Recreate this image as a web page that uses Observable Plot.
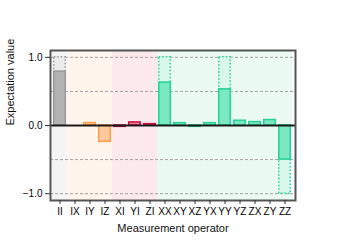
<!DOCTYPE html>
<html>
<head>
<meta charset="utf-8">
<script src="https://cdn.jsdelivr.net/npm/d3@7"></script>
<script src="https://cdn.jsdelivr.net/npm/@observablehq/plot@0.6"></script>
<style>
  html, body { margin: 0; padding: 0; background: #fff; }
  svg { font-family: "Liberation Sans", Arial, sans-serif; }
</style>
</head>
<body>
<div id="chart"></div>
<script>
const labels = ["II","IX","IY","IZ","XI","YI","ZI","XX","XY","XZ","YX","YY","YZ","ZX","ZY","ZZ"];
const groups = ["id","q0","q0","q0","q1","q1","q1","qq","qq","qq","qq","qq","qq","qq","qq","qq"];
const measured = [0.79, 0.0, 0.035, -0.24, -0.02, 0.045, 0.02, 0.63, 0.035, -0.02, 0.035, 0.53, 0.07, 0.05, 0.08, -0.50];
const ideal = [1, 0, 0, 0, 0, 0, 0, 1, 0, 0, 0, 1, 0, 0, 0, -1];
const yTicks = [-1, 0, 1];
const gridLines = [-1, -0.5, 0.5, 1];

const bandFill = {id: "#f4f4f4", q0: "#fff5ed", q1: "#fbe9ee", qq: "#eafaf3"};
const barFill = {id: "#b3b3b3", q0: "#ffc89d", q1: "#ee7f98", qq: "#7be8c2"};
const barStroke = {id: "#999999", q0: "#ff9c45", q1: "#c8123f", qq: "#22d497"};
const idealFill = {id: "#ebebeb", q0: "#ffe9d9", q1: "#f7d3dc", qq: "#d9f7ea"};

const rows = labels.map((l, i) => ({label: l, group: groups[i], value: measured[i], ideal: ideal[i]}));
const idealRows = rows.filter(r => r.ideal !== 0);

const chart = Plot.plot({
  width: 345,
  height: 250,
  marginLeft: 50,
  marginRight: 50,
  marginTop: 50,
  marginBottom: 50,
  style: {fontSize: "10px", fontFamily: "Liberation Sans, Arial, sans-serif", background: "white"},
  x: {domain: labels, paddingInner: 0.13, paddingOuter: 0.065, label: null},
  y: {domain: [-1.1, 1.1], label: null},
  marks: [
    Plot.barY(rows, {x: "label", y1: () => -1.1, y2: () => 1.1, fill: d => bandFill[d.group], insetLeft: -1, insetRight: -1}),
    Plot.ruleY(gridLines, {stroke: "#a0a0a0", strokeDasharray: "3,2", strokeWidth: 1}),
    Plot.barY(idealRows, {x: "label", y: "ideal", fill: d => idealFill[d.group], stroke: d => barStroke[d.group], strokeWidth: 1.5, strokeDasharray: "1.5,2", insetLeft: 0.75, insetRight: 0.75}),
    Plot.barY(rows.filter(r => r.value !== 0), {x: "label", y: "value", fill: d => barFill[d.group], stroke: d => barStroke[d.group], strokeWidth: 1.5, insetLeft: 0.75, insetRight: 0.75}),
    Plot.ruleY([0], {stroke: "#1a1a1a", strokeWidth: 2}),
    Plot.frame({stroke: "#555", strokeWidth: 2}),
    Plot.axisY({ticks: yTicks, tickFormat: d3.format(".1f"), tickSize: 5, tickPadding: 3, label: null, fontSize: 10, stroke: "#333"}),
    Plot.axisX({tickSize: 4, tickPadding: 3, label: null, fontSize: 10, stroke: "#333"}),
    Plot.text(["Measurement operator"], {frameAnchor: "bottom", dy: 31, fontSize: 11, fill: "#111"}),
    Plot.text(["Expectation value"], {frameAnchor: "left", dx: -40, rotate: -90, fontSize: 11, fill: "#111"})
  ]
});
document.getElementById("chart").appendChild(chart);
</script>
</body>
</html>
